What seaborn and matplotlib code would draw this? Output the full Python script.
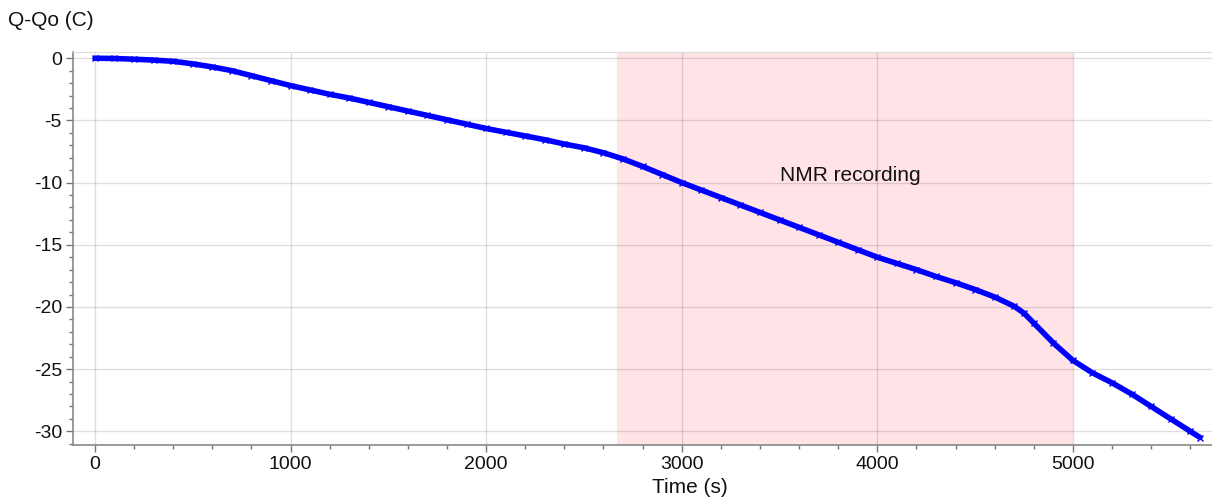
import pandas as pd
import matplotlib
matplotlib.use("Agg")
import matplotlib.pyplot as plt
from matplotlib.ticker import MultipleLocator
import seaborn as sns

# Datos
tiempo = [0, 100, 200, 300, 400, 500, 600, 700, 800, 900, 1000, 1100, 1200, 1300, 1400,
          1500, 1600, 1700, 1800, 1900, 2000, 2100, 2200, 2300, 2400, 2500, 2600, 2700,
          2800, 2900, 3000, 3100, 3200, 3300, 3400, 3500, 3600, 3700, 3800, 3900, 4000,
          4100, 4200, 4300, 4400, 4500, 4600, 4700, 4750, 4800, 4900, 5000, 5100, 5200,
          5300, 5400, 5500, 5600, 5650]
carga = [0.0, -0.02, -0.08, -0.15, -0.25, -0.45, -0.7, -1.0, -1.4, -1.8, -2.2, -2.55, -2.9,
         -3.2, -3.55, -3.9, -4.25, -4.6, -4.95, -5.3, -5.65, -5.95, -6.25, -6.55, -6.9,
         -7.2, -7.6, -8.1, -8.7, -9.35, -10.0, -10.6, -11.2, -11.8, -12.4, -13.0, -13.6,
         -14.2, -14.8, -15.4, -16.0, -16.5, -17.0, -17.55, -18.05, -18.6, -19.2, -19.95,
         -20.5, -21.3, -22.9, -24.3, -25.3, -26.1, -27.0, -28.0, -29.0, -30.0, -30.5]

nmr_inicio, nmr_fin = 2670, 5000
nmr_texto = "NMR recording"

df = pd.DataFrame({"Tiempo": tiempo, "Carga": carga})

sns.set_style("white")
plt.rcParams['font.family'] = ['Liberation Sans', 'DejaVu Sans']
plt.rcParams['axes.unicode_minus'] = False

fig = plt.figure(figsize=(12.12, 4.97), dpi=100)
ax = fig.add_axes([73 / 1212, 52 / 497, 1 - 73 / 1212, 393 / 497])

# zona de registro NMR
ax.axvspan(nmr_inicio, nmr_fin, color='#ffe3e6', lw=0, zorder=0)
ax.text(3860, -9.4, nmr_texto, fontsize=15, ha='center', va='center', color='#111111')

sns.lineplot(data=df, x="Tiempo", y="Carga", ax=ax, color='blue', linewidth=4,
             marker='x', markersize=5, markeredgewidth=1.0, markeredgecolor='blue',
             zorder=3)

ax.set_xlim(-112, 5711)
ax.set_ylim(-31.1, 0.5)
ax.xaxis.set_major_locator(MultipleLocator(1000))
ax.xaxis.set_minor_locator(MultipleLocator(200))
ax.yaxis.set_major_locator(MultipleLocator(5))
ax.yaxis.set_minor_locator(MultipleLocator(1))

ax.grid(True, which='major', color='#000000', alpha=0.13, lw=1, zorder=1)
ax.set_axisbelow(True)

ax.spines['right'].set_visible(False)
ax.spines['top'].set_color('#dddddd')
ax.spines['left'].set_color('#888888')
ax.spines['bottom'].set_color('#888888')
ax.spines['left'].set_linewidth(1.2)
ax.spines['bottom'].set_linewidth(1.2)

ax.tick_params(which='major', direction='out', length=5, width=1, color='#777777',
               labelsize=14, labelcolor='#111111', left=True, bottom=True, pad=3)
ax.tick_params(which='minor', direction='out', length=3, width=1, color='#777777',
               left=True, bottom=True)

ax.set_xlabel("Time (s)", fontsize=15, color='#111111')
ax.xaxis.set_label_coords(0.542, -0.085)
ax.set_ylabel("")
fig.text(8 / 1212, 1 - 20 / 497, "Q-Qo (C)", fontsize=15, ha='left', va='center',
         color='#111111')

plt.savefig("out.png", dpi=100)
